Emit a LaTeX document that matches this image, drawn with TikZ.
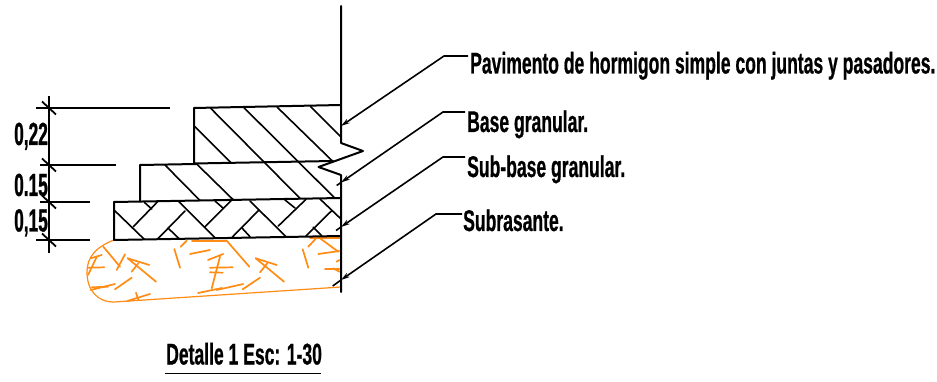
\documentclass[tikz,border=0pt]{standalone}
\usepackage{fontspec}
\newfontfamily\labfont[FakeStretch=0.585,FakeBold=0.6]{Liberation Sans}
\newfontfamily\dimfont[FakeStretch=0.54,FakeBold=0.8]{Liberation Sans}
\usetikzlibrary{arrows.meta}
\definecolor{soilorange}{RGB}{255,140,20}
\tikzset{
  wall/.style={line width=2pt,black,line cap=round,line join=round},
  hatch/.style={line width=1.6pt,black,line cap=round},
  dimline/.style={line width=1.8pt,black},
  soil/.style={line width=1.7pt,soilorange,line cap=round},
  outlinesoil/.style={line width=1.2pt,soilorange,line cap=round},
  leader/.style={line width=1.6pt,black},
  leadertip/.style={leader,-{Stealth[length=9pt,width=5pt]}},
  lab/.style={inner sep=0pt,anchor=base west,font=\labfont\bfseries\fontsize{30}{30}\selectfont},
  dimlab/.style={inner sep=0pt,anchor=base west,font=\dimfont\bfseries\fontsize{32}{32}\selectfont}
}
\begin{document}
\begin{tikzpicture}[x=1pt,y=-1pt]
\useasboundingbox (0,0) rectangle (937,382);
% orange soil
\draw[outlinesoil] (114,240) .. controls (96,247) and (87,257) .. (87,272) .. controls (87,290) and (97,302) .. (114,302) -- (341,287);
\foreach \a/\b/\c/\d in {
 103.3/246.7/120/266.7, 125/254.3/116.7/270, 101.7/255/90.7/258.3, 96.7/257/88/275,
 88.3/267.7/104.3/267.3, 90.7/290/115/284, 92/287.3/108/286.7, 115/289.3/131.7/277.7,
 127.7/258.3/149.3/265, 127.7/258.3/156/281.7, 138.3/263.3/131.7/271.7, 127.3/301/150/294,
 136/292.7/138.3/300, 174.3/249/180/267.7, 180.7/246.7/186.7/240.7, 192/240.7/226.7/240.7,
 226.7/240.7/249.3/266.7, 190/254/210/250, 208/260/223.3/254,
 210/267.7/232.7/267.3, 210/272.3/222.7/272.7, 220/256.7/211.7/288.3, 243.3/284/216.7/290,
 260/277.7/242.7/289.3, 255.7/258.3/276.7/265, 255.7/258.3/284/281.7, 267.3/263.3/260/272.3,
 302.7/249.3/308.3/267.7, 308.3/246.7/316.7/237.7, 310/238.3/341/238.3, 320/238.3/338.3/251.7,
 318.3/254/339.3/251, 325/269.3/339.3/269.3, 333.3/268.3/339.3/271.7, 336.7/261.7/339.3/260,
 198/293/222/288}
  {\draw[soil] (\a,\b) -- (\c,\d);}
% hatching of the upper two layers
\foreach \a/\b/\c/\d in {
 210.7/108.3/300/198.3, 244/107.7/335/198.3, 277.3/107.3/332.7/161.3, 310.7/106.7/340.7/136.7,
 195/126.7/231/162.7, 196.7/164/232.7/199.3, 165/165/200/200.5}
  {\draw[hatch] (\a,\b) -- (\c,\d);}
% herringbone of the lower layer
\foreach \a/\b/\c/\d in {
 114/210/144.3/239.3, 133.3/226.7/158.3/201, 144.3/202.3/151.7/209,
 157.3/239.3/185/211, 178.3/201/215/237.7, 168.3/228.3/178.7/238.3,
 205/226.7/232.7/199, 215/201/223.3/208.3,
 231.7/237.7/259/210, 250/201/286/236.7, 241.7/227.7/250/236.7,
 278.3/226/306/199.3, 285/200/295/208, 320/199/341/219,
 306/236/331.7/210.7, 313.3/227.3/321.7/235.7}
  {\draw[hatch] (\a,\b) -- (\c,\d);}
% layer outlines
\draw[wall] (194,163.5) -- (194,108) -- (341,105);
\draw[wall] (194,163.5) -- (333,161);
\draw[wall] (140,201.5) -- (140,165) -- (196,164);
\draw[wall] (114,240) -- (114,202) -- (341,198);
\draw[wall] (114,240) -- (341,236);
\draw[wall] (341,6) -- (341,143) -- (363,151) -- (318.5,167) -- (341,175) -- (341,292);
% dimensions
\draw[dimline] (49,96) -- (49,253);
\draw[dimline] (36,108) -- (170,108);
\draw[dimline] (40,165) -- (116,165);
\draw[dimline] (40,202) -- (90,202);
\draw[dimline] (36,240) -- (90,240);
\foreach \y in {108,165,202,240}
  {\draw[dimline] (42,\y-6.5) -- (56,\y+6.5);}
\node[dimlab] (d1) at (14,145) {0,22};
\node[dimlab] (d2) at (14,196) {0.15};
\node[dimlab] (d3) at (14,231.5) {0,15};
% labels
\node[lab] (l1) at (470,73.5) {Pavimento de hormigon simple con juntas y pasadores.};
\node[lab] (l2) at (467,132) {Base granular.};
\node[lab] (l3) at (467,177) {Sub-base granular.};
\node[lab] (l4) at (463,231) {Subrasante.};
\node[lab] (title) at (166,364.5) {Detalle 1 Esc: 1-30};
% leaders
\coordinate (k1) at (444,56); \coordinate (e1) at (468,56); \coordinate (t1) at (341,126);
\coordinate (k2) at (443,112); \coordinate (e2) at (465,112); \coordinate (t2) at (341,182.5); \coordinate (q2) at (336.7,185.5);
\coordinate (k3) at (443,157); \coordinate (e3) at (465,157); \coordinate (t3) at (341,227); \coordinate (q3) at (336,230.5);
\coordinate (k4) at (436,214); \coordinate (e4) at (462,214); \coordinate (t4) at (341,280); \coordinate (q4) at (332.7,286);
\draw[leadertip] (e1) -- (k1) -- (t1);
\draw[leadertip] (e2) -- (k2) -- (t2);
\draw[leader] (t2) -- (q2);
\draw[leadertip] (e3) -- (k3) -- (t3);
\draw[leader] (t3) -- (q3);
\draw[leadertip] (e4) -- (k4) -- (t4);
\draw[leader] (t4) -- (q4);
% title underline
\coordinate (u1) at (165,373.5); \coordinate (u2) at (321,373.5);
\draw[dimline] (u1) -- (u2);
\end{tikzpicture}
\end{document}
